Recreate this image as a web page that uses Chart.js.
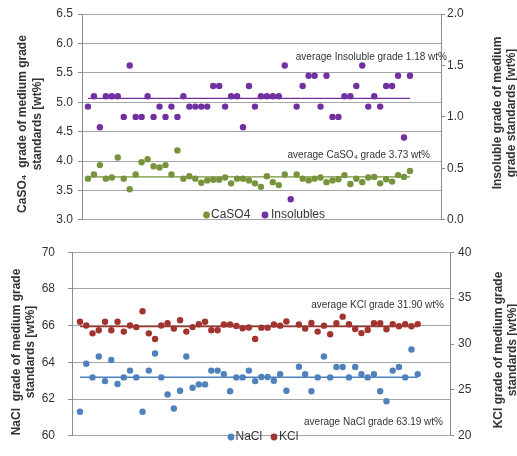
<!DOCTYPE html>
<html>
<head>
<meta charset="utf-8">
<script src="https://cdn.jsdelivr.net/npm/chart.js@4.4.1/dist/chart.umd.min.js"></script>
<style>
    html, body { margin: 0; padding: 0; background: #fff; }
    #wrap { position: relative; width: 517px; height: 456px; overflow: hidden; }
    canvas { position: absolute; left: 0; }
    #topChart { top: 0; }
    #bottomChart { top: 232px; }
</style>
</head>
<body>
<div id="wrap">
    <canvas id="topChart" width="517" height="232" style="width:517px;height:232px"></canvas>
    <canvas id="bottomChart" width="517" height="224" style="width:517px;height:224px"></canvas>
</div>
<script>
(function (window, document) {
    "use strict";

    // sample number of each medium grade standard
    const sampleNo = [
        1, 2, 3, 4, 5, 6, 7, 8, 9, 10, 11, 12, 13, 14, 15, 16, 17, 18, 19, 20,
        21, 22, 23, 24, 25, 26, 27, 28, 29, 30, 31, 32, 33, 34, 35, 36, 37, 38, 39, 40,
        41, 42, 43, 44, 45, 46, 47, 48, 49, 50, 51, 52, 53, 54, 55
    ];

    // wt% values (null = no point)
    const caso4 = [
        3.70, 3.77, 3.93, 3.70, 3.72, 4.06, 3.70, 3.52, 3.77, 3.98,
        4.03, 3.91, 3.89, 3.93, 3.77, 4.18, 3.70, 3.74, 3.70, 3.63,
        3.67, 3.68, 3.68, 3.72, 3.62, 3.70, 3.70, 3.67, 3.62, 3.56,
        3.74, 3.64, 3.59, 3.77, null, 3.77, 3.70, 3.67, 3.70, 3.72,
        3.64, 3.67, 3.69, 3.76, 3.61, 3.70, 3.64, 3.72, 3.73, 3.62,
        3.69, 3.65, 3.76, 3.73, 3.83
    ];
    const insolubles = [
        1.1, 1.2, 0.9, 1.2, 1.2, 1.2, 1.0, 1.5, 1.0, 1.0,
        1.2, 1.0, 1.1, 1.0, 1.1, 1.0, 1.2, 1.1, 1.1, 1.1,
        1.1, 1.3, 1.3, 1.1, 1.2, 1.2, 0.9, 1.3, 1.1, 1.2,
        1.2, 1.2, 1.2, 1.5, 0.2, 1.1, 1.3, 1.4, 1.4, 1.1,
        1.4, 1.0, 1.0, 1.2, 1.2, 1.3, 1.5, 1.1, 1.2, 1.1,
        1.3, 1.3, 1.4, 0.8, 1.4
    ];
    const nacl = [
        61.31, 63.93, 63.18, 64.32, 62.98, 64.13, 62.82, 63.18, 63.55, 63.18,
        61.31, 63.55, 64.48, 63.18, 62.25, 61.49, 62.45, 64.32, 62.62, 62.80,
        62.80, 63.55, 63.55, 63.36, 62.43, 63.18, 63.18, 63.55, 62.98, 63.20,
        63.20, 63.00, 63.36, 62.45, null, 63.76, 63.36, 62.43, 63.18, 64.32,
        63.18, 63.75, 63.75, 63.18, 63.75, 63.36, 63.18, 63.36, 62.43, 61.88,
        63.55, 63.75, 63.18, 64.70, 63.36
    ];
    const kcl = [
        32.43, 32.01, 31.16, 31.49, 32.43, 31.49, 32.43, 31.35, 32.01, 31.84,
        33.57, 31.16, 30.54, 32.01, 32.27, 31.68, 32.59, 31.35, 31.84, 32.15,
        32.43, 31.50, 31.50, 32.12, 32.12, 31.97, 31.72, 31.80, 30.54, 31.78,
        31.78, 32.12, 32.00, 32.45, null, 32.12, 31.68, 32.30, 31.35, 32.00,
        31.06, 32.27, 32.98, 32.15, 31.64, 31.19, 31.52, 32.27, 32.27, 31.61,
        32.17, 31.94, 32.17, 31.94, 32.17
    ];

    const avgCaso4 = 3.73;
    const avgInsolubles = 1.18;
    const avgNacl = 63.19;
    const avgKcl = 31.90;

    // axis ranges and steps
    const caso4Axis = [3, 6.5, 0.5];
    const insolAxis = [0, 2, 0.5];
    const naclAxis = [60, 70, 2];
    const kclAxis = [20, 40, 5];

    const FONT = "'Liberation Sans', Arial, sans-serif";
    const TEXT = "#333333";
    const GRID = "#a6a6a6";
    const AXIS = "#8c8c8c";
    const GREEN = "#77933c";
    const PURPLE = "#7030a0";
    const BLUE = "#4f81bd";
    const RED = "#a0352f";

    Chart.defaults.font.family = FONT;
    Chart.defaults.color = TEXT;

    function points(values) {
        return values
            .map((v, i) => ({ x: sampleNo[i], y: v }))
            .filter(p => p.y !== null);
    }

    function avgLine(value) {
        return [
            { x: sampleNo[0], y: value },
            { x: sampleNo[sampleNo.length - 1], y: value }
        ];
    }

    function dots(label, values, axis, color) {
        return {
            label, data: points(values), yAxisID: axis,
            backgroundColor: color, borderColor: color,
            pointRadius: 3.2, pointBorderWidth: 0, showLine: false
        };
    }

    function avg(value, axis, color) {
        return {
            type: "line", data: avgLine(value), yAxisID: axis,
            borderColor: color, borderWidth: 1.4, pointRadius: 0, fill: false
        };
    }

    function yScale(range, side, width, padding, grid) {
        return {
            position: side,
            min: range[0], max: range[1],
            ticks: {
                stepSize: range[2],
                padding,
                font: { size: 12 },
                color: TEXT,
                callback: v => range[2] < 1 ? v.toFixed(1) : String(v)
            },
            grid: grid
                ? { color: GRID, lineWidth: 1, tickLength: 4, tickColor: AXIS }
                : { drawOnChartArea: false, tickLength: 4, color: AXIS },
            border: { color: AXIS },
            afterFit: s => { s.width = width; }
        };
    }

    // titles, average labels and in-plot legend
    const panelText = {
        id: "panelText",
        afterDraw(chart, args, opts) {
            const ctx = chart.ctx;
            (opts.items || []).forEach(item => {
                ctx.save();
                ctx.translate(item.x, item.y);
                if (item.rotate) ctx.rotate(-Math.PI / 2);
                if (item.dot) {
                    ctx.fillStyle = item.dot;
                    ctx.beginPath();
                    ctx.arc(0, 0, 3.4, 0, Math.PI * 2);
                    ctx.fill();
                } else {
                    ctx.font = item.font;
                    ctx.fillStyle = TEXT;
                    ctx.textAlign = item.align || "left";
                    ctx.textBaseline = "middle";
                    ctx.fillText(item.text, 0, 0);
                }
                ctx.restore();
            });
        }
    };

    const TITLE = "bold 12px " + FONT;
    const NOTE = "10px " + FONT;
    const LEG = "12px " + FONT;

    new Chart(document.getElementById("topChart"), {
        type: "scatter",
        data: {
            datasets: [
                dots("CaSO4", caso4, "y", GREEN),
                dots("Insolubles", insolubles, "y2", PURPLE),
                avg(avgCaso4, "y", GREEN),
                avg(avgInsolubles, "y2", PURPLE)
            ]
        },
        options: {
            responsive: false,
            animation: false,
            layout: { padding: { top: 14, bottom: 9, left: 0, right: 0 } },
            plugins: {
                legend: { display: false },
                tooltip: { enabled: false },
                panelText: {
                    items: [
                        { text: "CaSO\u2084  grade of medium grade", x: 23, y: 124, rotate: true, align: "center", font: TITLE },
                        { text: "standards [wt%]", x: 38, y: 124, rotate: true, align: "center", font: TITLE },
                        { text: "Insoluble grade of medium", x: 498, y: 113, rotate: true, align: "center", font: TITLE },
                        { text: "grade standards [wt%]", x: 512, y: 113, rotate: true, align: "center", font: TITLE },
                        { text: "average Insoluble grade 1.18 wt%", x: 447, y: 57, align: "right", font: NOTE },
                        { text: "average CaSO\u2084 grade 3.73 wt%", x: 430, y: 155, align: "right", font: NOTE },
                        { dot: GREEN, x: 206.5, y: 215 },
                        { text: "CaSO4", x: 211, y: 215, font: LEG },
                        { dot: PURPLE, x: 265, y: 215 },
                        { text: "Insolubles", x: 271, y: 215, font: LEG }
                    ]
                }
            },
            scales: {
                x: { type: "linear", min: 0, max: 60.2, display: false },
                y: yScale(caso4Axis, "left", 82, 5, true),
                y2: yScale(insolAxis, "right", 76, 2, false)
            }
        },
        plugins: [panelText]
    });

    new Chart(document.getElementById("bottomChart"), {
        type: "scatter",
        data: {
            datasets: [
                dots("NaCl", nacl, "y", BLUE),
                dots("KCl", kcl, "y2", RED),
                avg(avgNacl, "y", BLUE),
                avg(avgKcl, "y2", RED)
            ]
        },
        options: {
            responsive: false,
            animation: false,
            layout: { padding: { top: 11, bottom: 8, left: 0, right: 0 } },
            plugins: {
                legend: { display: false },
                tooltip: { enabled: false },
                panelText: {
                    items: [
                        { text: "NaCl  grade of medium grade", x: 17, y: 120, rotate: true, align: "center", font: TITLE },
                        { text: "standards [wt%]", x: 31, y: 120, rotate: true, align: "center", font: TITLE },
                        { text: "KCl grade of medium grade", x: 499, y: 118, rotate: true, align: "center", font: TITLE },
                        { text: "standards [wt%]", x: 513, y: 118, rotate: true, align: "center", font: TITLE },
                        { text: "average KCl grade 31.90 wt%", x: 444, y: 73, align: "right", font: NOTE },
                        { text: "average NaCl grade 63.19 wt%", x: 443, y: 190, align: "right", font: NOTE },
                        { dot: BLUE, x: 231, y: 205 },
                        { text: "NaCl", x: 235.5, y: 205, font: LEG },
                        { dot: RED, x: 274, y: 205 },
                        { text: "KCl", x: 279, y: 205, font: LEG }
                    ]
                }
            },
            scales: {
                x: { type: "linear", min: -0.28, max: 60.16, display: false },
                y: yScale(naclAxis, "left", 72, 13, true),
                y2: yScale(kclAxis, "right", 67, 4, false)
            }
        },
        plugins: [panelText]
    });
})(window, document);
</script>
</body>
</html>
